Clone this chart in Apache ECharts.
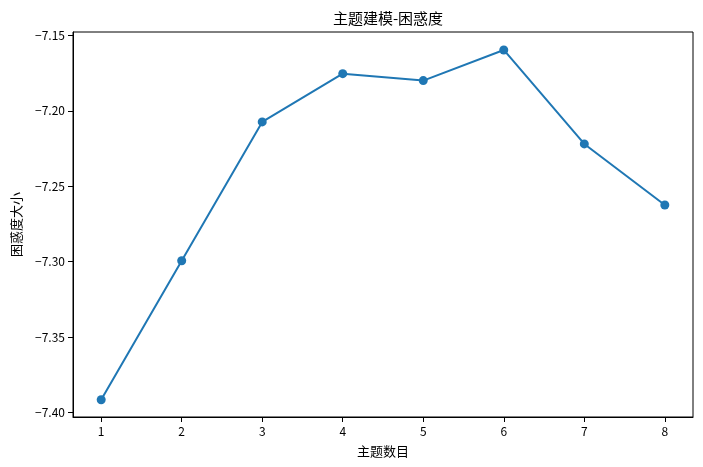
<!DOCTYPE html>
<html><head><meta charset="utf-8">
<script src="https://cdn.jsdelivr.net/npm/echarts@6/dist/echarts.min.js"></script>
<style>html,body{margin:0;padding:0;background:#fff}#c{width:703px;height:467px}</style>
</head><body><div id="c"></div>
<script>
const topicCounts = [1, 2, 3, 4, 5, 6, 7, 8];
const perplexity = [-7.3916, -7.2994, -7.2074, -7.1754, -7.1800, -7.1597, -7.2220, -7.2625];
const xTicks = [1, 2, 3, 4, 5, 6, 7, 8];
const yTicks = [-7.40, -7.35, -7.30, -7.25, -7.20, -7.15];
const titleText = '主题建模-困惑度';
const xName = '主题数目';
const yName = '困惑度大小';

const FONT = '"Noto Sans CJK SC", "DejaVu Sans", sans-serif';
const chart = echarts.init(document.getElementById('c'), null, {renderer: 'canvas'});
const fmtY = v => v.toFixed(2).replace('-', '\u2212');
chart.setOption({
  animation: false,
  backgroundColor: '#fff',
  title: {text: titleText, left: 383, top: 6, textAlign: 'center',
    textStyle: {fontFamily: FONT, fontSize: 15, fontWeight: 'normal', color: '#000'}},
  grid: {left: 73, right: 10, top: 32, bottom: 50, show: true, borderColor: '#000', borderWidth: 1, backgroundColor: 'transparent'},
  xAxis: {type: 'value', min: 0.65, max: 8.35,
    name: xName, nameLocation: 'middle', nameGap: 28,
    nameTextStyle: {fontFamily: FONT, fontSize: 13, color: '#000'},
    axisLine: {show: true, lineStyle: {color: '#000', width: 1}},
    axisTick: {show: true, inside: false, length: 5, lineStyle: {color: '#000'}, customValues: xTicks},
    axisLabel: {customValues: xTicks, fontFamily: FONT, fontSize: 12, color: '#000', margin: 8, formatter: v => String(v)},
    splitLine: {show: false}},
  yAxis: {type: 'value', min: -7.4030, max: -7.1478,
    name: yName, nameLocation: 'middle', nameGap: 50, nameRotate: 90,
    nameTextStyle: {fontFamily: FONT, fontSize: 13, color: '#000'},
    axisLine: {show: true, lineStyle: {color: '#000', width: 1}},
    axisTick: {show: true, inside: false, length: 5, lineStyle: {color: '#000'}, customValues: yTicks},
    axisLabel: {customValues: yTicks, fontFamily: FONT, fontSize: 12, color: '#000', margin: 8, formatter: fmtY},
    splitLine: {show: false}},
  series: [{
    type: 'line',
    data: topicCounts.map((x, i) => [x, perplexity[i]]),
    symbol: 'circle', symbolSize: 9,
    lineStyle: {color: '#1f77b4', width: 2},
    itemStyle: {color: '#1f77b4'},
    showSymbol: true
  }]
});
</script></body></html>
